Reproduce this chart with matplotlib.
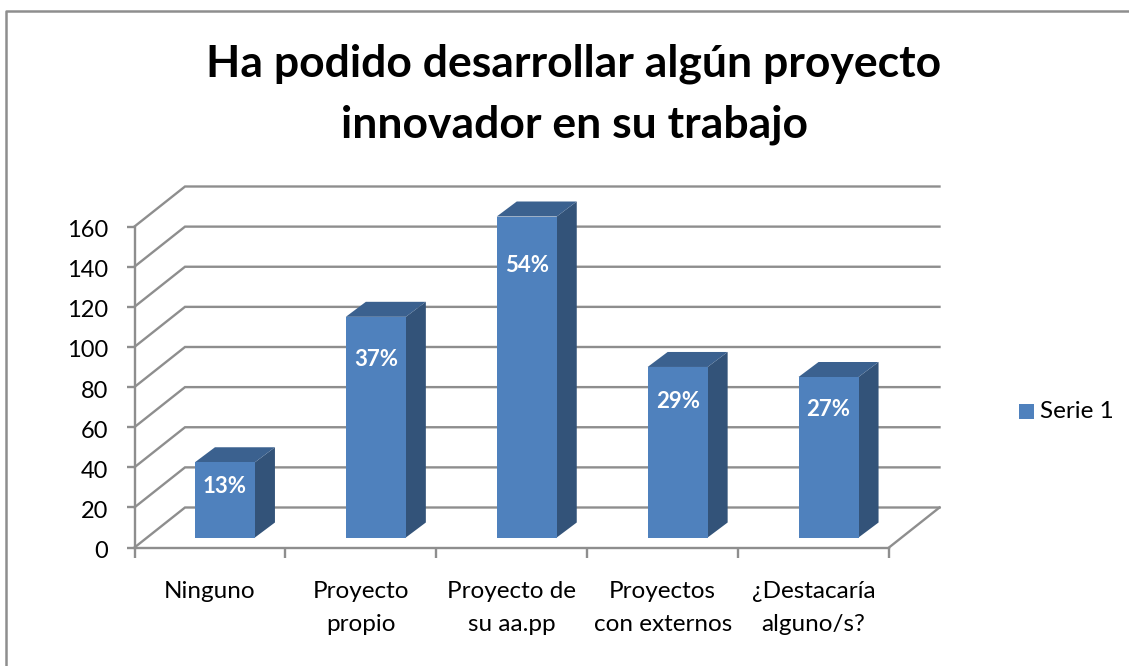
#!/usr/bin/env python3
import matplotlib
matplotlib.use('Agg')
import matplotlib.pyplot as plt
from matplotlib.patches import Polygon, Rectangle
from matplotlib.transforms import ScaledTranslation

categories = ['Ninguno', 'Proyecto\npropio', 'Proyecto de\nsu aa.pp',
              'Proyectos\ncon externos', '¿Destacaría\nalguno/s?']
values = [37.5, 110, 160, 85, 80]
percent_labels = ['13%', '37%', '54%', '29%', '27%']
y_ticks = [0, 20, 40, 60, 80, 100, 120, 140, 160]
title = 'Ha podido desarrollar algún proyecto\ninnovador en su trabajo'
series_name = 'Serie 1'

W, H = 1129, 666
GREY = '#8e8e8e'
FRONT = '#4f81bd'
TOP = '#3b618f'
SIDE = '#335379'
# how far below the bar top each percent label sits, in pixels
LABEL_DROP = [24, 43, 49, 35, 32]

plt.rcParams['font.family'] = ['Lato', 'DejaVu Sans']


def plotChart():
    fig = plt.figure(figsize=(W / 100, H / 100), dpi=100, facecolor='white')

    # outer chart frame, only left and top are visible in the picture
    fig.add_artist(plt.Line2D([6 / W, 6 / W, 1], [0, 1 - 11 / H, 1 - 11 / H],
                              color=GREY, lw=1.8))

    x0, x1 = 134.5, 889
    y0, y1 = 547.5, 226.5
    ax = fig.add_axes([x0 / W, 1 - y0 / H, (x1 - x0) / W, (y0 - y1) / H])
    ax.set_xlim(0, len(categories))
    ax.set_ylim(0, 160)
    ax.patch.set_visible(False)

    # fake 3d depth, in data units
    cat_px = (x1 - x0) / len(categories)
    val_px = (y0 - y1) / 160
    wall_dx = 50.5 / cat_px
    wall_dy = 40 / val_px

    for t in y_ticks:
        ax.plot([0, wall_dx, len(categories) + wall_dx], [t, t + wall_dy, t + wall_dy],
                color=GREY, lw=1.7, clip_on=False, zorder=1, solid_joinstyle='miter')
    ax.plot([len(categories), len(categories) + wall_dx], [0, wall_dy],
            color=GREY, lw=1.7, clip_on=False, zorder=1)

    bar_w = 60 / cat_px
    off_x = 15 / cat_px
    off_y = 10 / val_px
    dep_x = 20 / cat_px
    dep_y = 15 / val_px
    for i, v in enumerate(values):
        left = i + 0.5 + off_x - bar_w / 2
        right = left + bar_w
        bot = off_y
        top = off_y + v
        ax.add_patch(Polygon([(right, bot), (right + dep_x, bot + dep_y),
                              (right + dep_x, top + dep_y), (right, top)],
                             facecolor=SIDE, edgecolor='none', clip_on=False, zorder=3))
        ax.add_patch(Polygon([(left, top), (right, top), (right + dep_x, top + dep_y),
                              (left + dep_x, top + dep_y)],
                             facecolor=TOP, edgecolor='none', clip_on=False, zorder=3))
        ax.add_patch(Rectangle((left, bot), bar_w, v, facecolor=FRONT, edgecolor='none',
                               clip_on=False, zorder=4))
        ax.text(left + bar_w / 2, top - LABEL_DROP[i] / val_px, percent_labels[i], color='white',
                fontsize=16, fontweight='bold', ha='center', va='center', zorder=5)

    for s in ['top', 'right']:
        ax.spines[s].set_visible(False)
    for s in ['left', 'bottom']:
        ax.spines[s].set_color(GREY)
        ax.spines[s].set_linewidth(1.7)
    ax.set_yticks(y_ticks)
    ax.set_xticks(range(len(categories) + 1))
    ax.set_xticklabels([])
    ax.tick_params(axis='y', length=6, width=1.7, color=GREY, labelsize=17, pad=13,
                   labelcolor='black')
    ax.tick_params(axis='x', length=7, width=1.7, color=GREY)
    # tick labels sit a little lower than the ticks
    shift = ScaledTranslation(0, -2 / 100, fig.dpi_scale_trans)
    for lab in ax.get_yticklabels():
        lab.set_transform(lab.get_transform() + shift)
    for i, c in enumerate(categories):
        ax.text(i + 0.5, -(581 - y0) / val_px, c, ha='center', va='top', fontsize=17.5,
                linespacing=1.68)

    fig.text(574 / W, 1 - 94 / H, title, ha='center', va='center', fontsize=32,
             fontweight='bold', linespacing=1.62)

    # legend
    fig.add_artist(Rectangle((1019 / W, 1 - 419 / H), 15 / W, 15 / H, facecolor=FRONT,
                             edgecolor='none', transform=fig.transFigure))
    fig.text(1040 / W, 1 - 411 / H, series_name, ha='left', va='center', fontsize=17.5)

    fig.savefig('out.png', dpi=100)


def main():
    plotChart()


if __name__ == '__main__':
    main()
